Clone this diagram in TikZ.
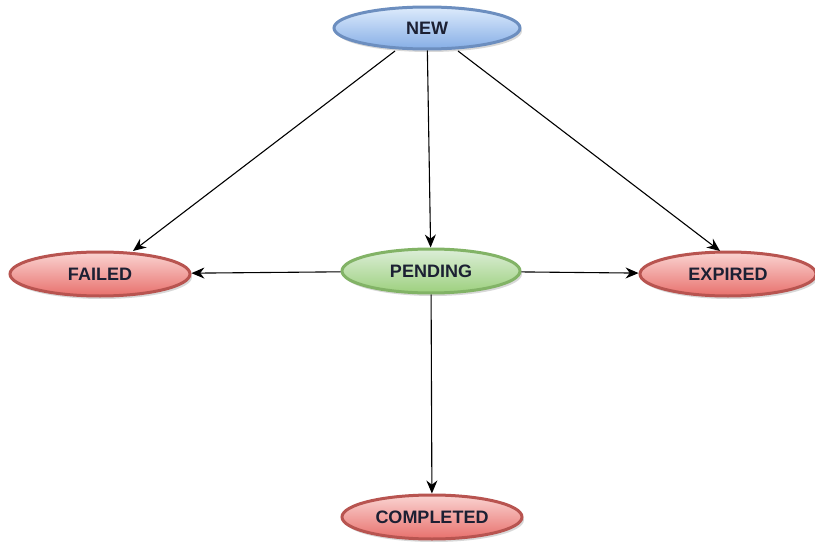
\documentclass[tikz,border=0pt]{standalone}
\usepackage{fontspec}
\setmainfont{Liberation Sans}
\usetikzlibrary{shapes.geometric,shadows,arrows.meta}
\definecolor{txt}{HTML}{1C2033}
\definecolor{bluetop}{HTML}{DDEBFC}
\definecolor{bluebot}{HTML}{86AEE6}
\definecolor{blueline}{HTML}{6C8EBF}
\definecolor{redtop}{HTML}{FAD4D2}
\definecolor{redbot}{HTML}{E8706C}
\definecolor{redline}{HTML}{B85450}
\definecolor{greentop}{HTML}{DCEED8}
\definecolor{greenbot}{HTML}{9DD07E}
\definecolor{greenline}{HTML}{82B366}
\tikzset{
  state/.style={ellipse, minimum width=180pt, minimum height=44pt, inner sep=0pt,
    line width=3pt, font=\bfseries\fontsize{18}{20}\selectfont, text=txt,
    drop shadow={shadow xshift=2pt, shadow yshift=-3pt, opacity=0.3}},
  bluestate/.style={state, draw=blueline, top color=bluetop, bottom color=bluebot},
  redstate/.style={state, draw=redline, top color=redtop, bottom color=redbot},
  greenstate/.style={state, draw=greenline, top color=greentop, bottom color=greenbot},
  conn/.style={draw=black, line width=1.1pt, -{Stealth[length=13pt,width=11pt]}}
}
\begin{document}
\begin{tikzpicture}[x=1pt,y=-1pt]
\useasboundingbox[fill=white] (0,0) rectangle (815,546);
\node[bluestate, minimum width=186pt, minimum height=42pt] (new) at (427,28) {NEW};
\node[redstate] (failed) at (100,274) {FAILED};
\node[greenstate, minimum width=178pt] (pending) at (431,271) {PENDING};
\node[redstate, minimum width=176pt] (expired) at (728,274) {EXPIRED};
\node[redstate] (completed) at (432,517) {COMPLETED};
\coordinate (n1) at (395,51);
\coordinate (n3) at (458,51);
\coordinate (f1) at (133,251);
\coordinate (e1) at (720,251);
\draw[conn] (n1) -- (f1);
\draw[conn] (new) -- (pending);
\draw[conn] (n3) -- (e1);
\draw[conn] (pending) -- (failed);
\draw[conn] (pending) -- (expired);
\draw[conn] (pending) -- (completed);
\end{tikzpicture}
\end{document}
